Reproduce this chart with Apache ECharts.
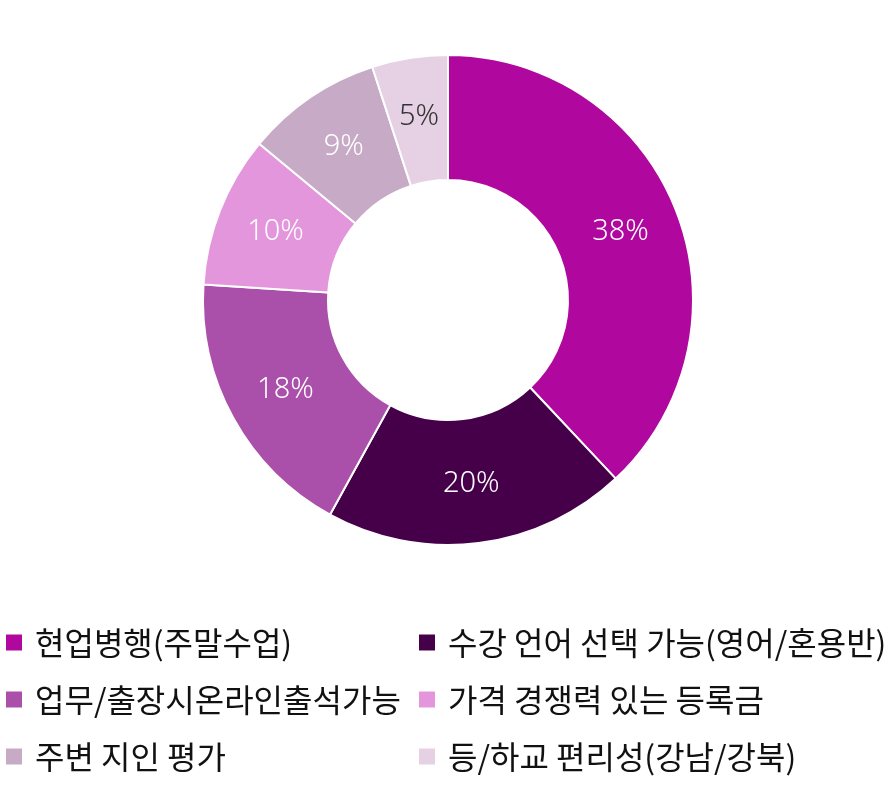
<!DOCTYPE html>
<html>
<head>
<meta charset="utf-8">
<script src="https://cdn.jsdelivr.net/npm/echarts@6/dist/echarts.min.js"></script>
<style>
  html, body { margin: 0; padding: 0; background: #fff; }
  #main { width: 884px; height: 801px; }
</style>
</head>
<body>
<div id="main"></div>
<script>
// 항목 / 비율 / 색상
var names = ['현업병행(주말수업)', '수강 언어 선택 가능(영어/혼용반)', '업무/출장시온라인출석가능',
             '가격 경쟁력 있는 등록금', '주변 지인 평가', '등/하교 편리성(강남/강북)'];
var values = [38, 20, 18, 10, 9, 5];
var colors = ['#b0089e', '#46004a', '#aa4faa', '#e496dc', '#c6aac6', '#e6d0e4'];
var labelColors = ['#fff', '#fff', '#fff', '#fff', '#fff', '#333'];

var leftNames = [names[0], names[2], names[4]];
var rightNames = [names[1], names[3], names[5]];

var myChart = echarts.init(document.getElementById('main'));

var pieData = names.map(function (n, i) {
	return {
		name: n,
		value: values[i],
		itemStyle: { color: colors[i] },
		label: { color: labelColors[i] }
	};
});

function legendOf(list, left) {
	return {
		data: list,
		orient: 'vertical',
		left: left,
		top: 618,
		icon: 'rect',
		itemWidth: 18,
		itemHeight: 18,
		itemGap: 18,
		selectedMode: false,
		textStyle: {
			fontFamily: 'Noto Sans CJK KR',
			fontSize: 32,
			lineHeight: 39,
			color: '#111',
			padding: [0, 0, 0, 7]
		}
	};
}

var option = {
	animation: false,
	legend: [legendOf(leftNames, -1), legendOf(rightNames, 412)],
	series: [{
		type: 'pie',
		center: [448, 300],
		radius: [120, 245],
		startAngle: 90,
		clockwise: true,
		data: pieData,
		itemStyle: { borderColor: '#fff', borderWidth: 2 },
		label: {
			position: 'inside',
			formatter: '{c}%',
			fontFamily: 'Noto Sans',
			fontWeight: 350,
			fontSize: 29,
			padding: [8, 0, 0, 0]
		},
		labelLine: { show: false },
		emphasis: { disabled: true }
	}]
};
myChart.setOption(option);
</script>
</body>
</html>
